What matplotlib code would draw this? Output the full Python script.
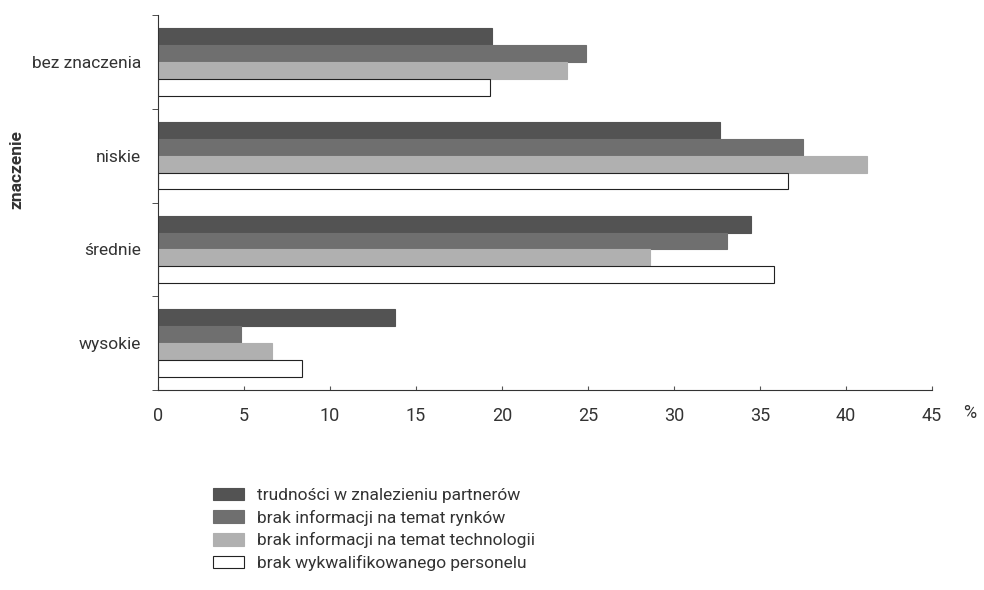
import matplotlib
matplotlib.use("Agg")
import matplotlib.pyplot as plt
import numpy as np
from matplotlib.patches import Patch
from matplotlib.ticker import FixedLocator

plt.rcParams['font.family'] = ['Roboto', 'DejaVu Sans']

categories = ["bez znaczenia", "niskie", "średnie", "wysokie"]
series_names = [
    "trudności w znalezieniu partnerów",
    "brak informacji na temat rynków",
    "brak informacji na temat technologii",
    "brak wykwalifikowanego personelu",
]
partnerzy = [19.4, 32.7, 34.5, 13.8]
rynki = [24.9, 37.5, 33.1, 4.8]
technologie = [23.8, 41.2, 28.6, 6.6]
personel = [19.3, 36.6, 35.8, 8.4]
x_ticks = [0, 5, 10, 15, 20, 25, 30, 35, 40, 45]

series = [partnerzy, rynki, technologie, personel]
colors = ["#535353", "#6f6f6f", "#b0b0b0", "#ffffff"]

fig = plt.figure(figsize=(9.84, 5.90), dpi=100)
ax = fig.add_axes([158/984, 1-390/590, 774/984, 375/590])

y = np.arange(len(categories))
h = 0.18
for i, (vals, c) in enumerate(zip(series, colors)):
    off = (i - 1.5) * h
    ax.barh(y + off, vals, height=h, color=c,
            edgecolor="#222222" if c == "#ffffff" else c, linewidth=0.8)

ax.set_ylim(3.5, -0.5)
ax.set_xlim(0, 45)
ax.set_xticks(x_ticks)
ax.set_xticklabels([str(t) for t in x_ticks], fontsize=13, color="#333333")
ax.set_yticks(y)
ax.set_yticklabels(categories, fontsize=12.5, color="#333333")
ax.tick_params(axis='y', length=0, pad=12)
ax.yaxis.set_minor_locator(FixedLocator([-0.5, 0.5, 1.5, 2.5, 3.5]))
ax.tick_params(axis='y', which='minor', length=4, direction='out', color="#333333")
ax.tick_params(axis='x', length=3, direction='in', pad=12, color="#555555")
for s in ["top", "right"]:
    ax.spines[s].set_visible(False)
ax.spines["left"].set_color("#333333")
ax.spines["bottom"].set_color("#333333")
ax.spines["left"].set_linewidth(0.8)
ax.spines["bottom"].set_linewidth(0.8)

fig.text(970/984, 1-413/590, "%", fontsize=13, color="#333333", ha="center", va="center")
fig.text(17/984, 1-170/590, "znaczenie", fontsize=12.5, fontweight="bold", color="#333333",
         rotation=90, ha="center", va="center")

handles = [Patch(facecolor=c, edgecolor="#222222" if c == "#ffffff" else c, linewidth=0.8)
           for c in colors]
fig.legend(handles, series_names, loc="upper left",
           bbox_to_anchor=(197/984, 1-472/590), frameon=False,
           fontsize=12.5, handlelength=1.8, handleheight=0.75,
           labelspacing=0.38, handletextpad=0.75, labelcolor="#333333")

fig.savefig("out.png", dpi=100)
